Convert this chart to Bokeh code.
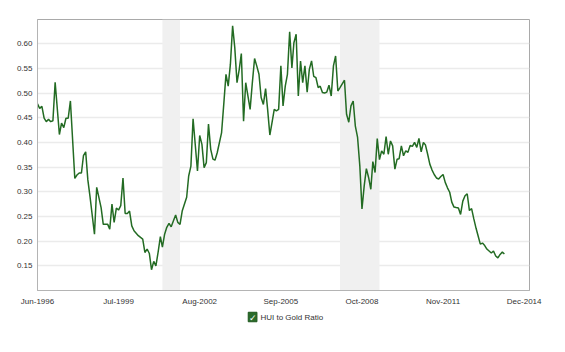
import pandas as pd
from bokeh.plotting import figure
from bokeh.layouts import column
from bokeh.models import (Range1d, FixedTicker, DatetimeTickFormatter, NumeralTickFormatter,
                          BoxAnnotation, ColumnDataSource)
from bokeh.core.properties import value
from bokeh.embed import file_html
from bokeh.resources import INLINE

# ---------------- data ----------------
dates = [
    "1996-06", "1996-07", "1996-08", "1996-09", "1996-10", "1996-11", "1996-12",
    "1997-01", "1997-02", "1997-04", "1997-05", "1997-06", "1997-07", "1997-08", "1997-09", "1997-11", "1997-12",
    "1998-01", "1998-02", "1998-03", "1998-04", "1998-05", "1998-06", "1998-08", "1998-09", "1998-11", "1998-12",
    "1999-02", "1999-03", "1999-04", "1999-05", "1999-06", "1999-07", "1999-08", "1999-09", "1999-10", "1999-11", "1999-12",
    "2000-01", "2000-02", "2000-04", "2000-06", "2000-07", "2000-08", "2000-09", "2000-10", "2000-11", "2000-12",
    "2001-01", "2001-02", "2001-03", "2001-04", "2001-05", "2001-06", "2001-07", "2001-09", "2001-10", "2001-11", "2001-12",
    "2002-02", "2002-03", "2002-04", "2002-05", "2002-07", "2002-08", "2002-09", "2002-10", "2002-11", "2002-12",
    "2003-01", "2003-02", "2003-03", "2003-04", "2003-06", "2003-07", "2003-08", "2003-09", "2003-10", "2003-11", "2003-12",
    "2004-01", "2004-02", "2004-03", "2004-04", "2004-05", "2004-06", "2004-07", "2004-08", "2004-09", "2004-10", "2004-11", "2004-12",
    "2005-01", "2005-02", "2005-03", "2005-04", "2005-05", "2005-06", "2005-07", "2005-08", "2005-09", "2005-10", "2005-11", "2005-12",
    "2006-01", "2006-02", "2006-03", "2006-04", "2006-05", "2006-06", "2006-07", "2006-08", "2006-09", "2006-10", "2006-11", "2006-12",
    "2007-01", "2007-02", "2007-03", "2007-04", "2007-05", "2007-06", "2007-07", "2007-08", "2007-09", "2007-10", "2007-11", "2007-12",
    "2008-02", "2008-03", "2008-04", "2008-05", "2008-06", "2008-07", "2008-08", "2008-09", "2008-10", "2008-11", "2008-12",
    "2009-01", "2009-02", "2009-03", "2009-04", "2009-05", "2009-06", "2009-07", "2009-08", "2009-09", "2009-10", "2009-11", "2009-12",
    "2010-01", "2010-02", "2010-03", "2010-04", "2010-05", "2010-06", "2010-07", "2010-08", "2010-09", "2010-10", "2010-11", "2010-12",
    "2011-01", "2011-02", "2011-03", "2011-04", "2011-05", "2011-06", "2011-07", "2011-08", "2011-09", "2011-10", "2011-11", "2011-12",
    "2012-01", "2012-02", "2012-03", "2012-04", "2012-05", "2012-06", "2012-07", "2012-08", "2012-09", "2012-10", "2012-11", "2012-12",
    "2013-01", "2013-02", "2013-03", "2013-04", "2013-05", "2013-06", "2013-07", "2013-08", "2013-09", "2013-10", "2013-11", "2013-12",
    "2014-01", "2014-02", "2014-03",
]

hui_gold_ratio = [
    0.478, 0.469, 0.473, 0.449, 0.442, 0.447, 0.442,
    0.444, 0.522, 0.416, 0.439, 0.430, 0.449, 0.449, 0.484, 0.327, 0.334,
    0.338, 0.338, 0.373, 0.381, 0.324, 0.289, 0.214, 0.309, 0.268, 0.234,
    0.234, 0.224, 0.275, 0.238, 0.267, 0.263, 0.272, 0.328, 0.256, 0.256, 0.261,
    0.231, 0.221, 0.211, 0.204, 0.177, 0.184, 0.175, 0.142, 0.159, 0.150,
    0.178, 0.209, 0.188, 0.214, 0.228, 0.236, 0.229, 0.253, 0.238, 0.234, 0.261,
    0.289, 0.332, 0.352, 0.448, 0.342, 0.414, 0.396, 0.349, 0.359, 0.437,
    0.386, 0.366, 0.364, 0.379, 0.420, 0.477, 0.538, 0.514, 0.558, 0.636, 0.592,
    0.521, 0.548, 0.580, 0.443, 0.521, 0.494, 0.467, 0.521, 0.570, 0.555, 0.538, 0.491,
    0.477, 0.509, 0.467, 0.415, 0.440, 0.467, 0.464, 0.467, 0.555, 0.474, 0.514, 0.538,
    0.624, 0.551, 0.602, 0.619, 0.494, 0.565, 0.521, 0.555, 0.502, 0.548, 0.565, 0.534,
    0.531, 0.511, 0.514, 0.501, 0.500, 0.502, 0.516, 0.494, 0.555, 0.575, 0.504, 0.511,
    0.526, 0.457, 0.441, 0.474, 0.484, 0.433, 0.410, 0.353, 0.265, 0.312, 0.347,
    0.329, 0.305, 0.361, 0.339, 0.408, 0.365, 0.383, 0.376, 0.412, 0.376, 0.403, 0.393,
    0.346, 0.366, 0.367, 0.393, 0.373, 0.383, 0.380, 0.394, 0.392, 0.400, 0.390, 0.408,
    0.381, 0.400, 0.395, 0.376, 0.356, 0.344, 0.335, 0.328, 0.326, 0.331, 0.335, 0.319,
    0.308, 0.299, 0.279, 0.269, 0.268, 0.267, 0.254, 0.281, 0.292, 0.296, 0.262, 0.266,
    0.245, 0.226, 0.211, 0.194, 0.196, 0.191, 0.184, 0.180, 0.176, 0.180, 0.170, 0.166,
    0.173, 0.178, 0.174,
]

recession_starts = ["2001-03-01", "2007-12-01"]
recession_ends = ["2001-11-01", "2009-06-01"]

x_tick_dates = ["1996-06-01", "1999-07-01", "2002-08-01", "2005-09-01",
                "2008-10-01", "2011-11-01", "2014-12-01"]
y_ticks = [0.15, 0.20, 0.25, 0.30, 0.35, 0.40, 0.45, 0.50, 0.55, 0.60]

series_name = "HUI to Gold Ratio"
x_start, x_end = "1996-06-01", "2015-02-13"
y_start, y_end = 0.10, 0.649

assert len(dates) == len(hui_gold_ratio)


def ms(d):
    return pd.Timestamp(d).value / 1e6


# ---------------- main chart ----------------
FONT = "Liberation Sans"
LINE_COLOR = "#236b23"
BOX_COLOR = "#2a6b2a"
W, H_MAIN, H_LEG = 565, 308, 44

p = figure(width=W, height=H_MAIN, x_axis_type="datetime",
           output_backend="svg", toolbar_location=None,
           x_range=Range1d(ms(x_start), ms(x_end)),
           y_range=Range1d(y_start, y_end),
           min_border_left=37, min_border_right=36,
           min_border_top=19, min_border_bottom=18)

p.background_fill_color = "white"
p.border_fill_color = "white"
p.outline_line_color = "#a9a9a9"
p.outline_line_width = 1

# recession bands
for s, e in zip(recession_starts, recession_ends):
    p.add_layout(BoxAnnotation(left=ms(s), right=ms(e), fill_color="#f0f0f0",
                               fill_alpha=1.0, line_color=None, level="underlay"))

src = ColumnDataSource(dict(x=[pd.Timestamp(d + "-01") for d in dates], y=hui_gold_ratio))
p.line("x", "y", source=src, line_color=LINE_COLOR, line_width=1.5)

p.xaxis.ticker = FixedTicker(ticks=[ms(d) for d in x_tick_dates])
p.xaxis.formatter = DatetimeTickFormatter(
    milliseconds="%b-%Y", seconds="%b-%Y", minsec="%b-%Y", minutes="%b-%Y",
    hourmin="%b-%Y", hours="%b-%Y", days="%b-%Y", months="%b-%Y", years="%b-%Y")
p.yaxis.ticker = FixedTicker(ticks=y_ticks)
p.yaxis.formatter = NumeralTickFormatter(format="0.00")

for ax in (p.xaxis, p.yaxis):
    ax.axis_line_color = "#b4b4b4"
    ax.axis_line_width = 1
    ax.major_tick_line_color = None
    ax.minor_tick_line_color = None
    ax.major_tick_out = 0
    ax.major_tick_in = 0
    ax.major_label_text_font = FONT
    ax.major_label_text_font_size = "8px"
    ax.major_label_text_color = "#333333"
p.yaxis.major_label_standoff = 5
p.xaxis.major_label_standoff = 6

p.xgrid.grid_line_color = None
p.ygrid.grid_line_color = "#ebebeb"
p.ygrid.grid_line_width = 1.5

# ---------------- legend strip (checkbox + series name) ----------------
leg = figure(width=W, height=H_LEG, output_backend="svg", toolbar_location=None,
             x_range=Range1d(0, W), y_range=Range1d(H_LEG, 0),
             x_axis_location=None, y_axis_location=None,
             min_border=0, min_border_left=0, min_border_right=0,
             min_border_top=0, min_border_bottom=0)
leg.outline_line_color = None
leg.background_fill_color = "white"
leg.border_fill_color = "white"
leg.xgrid.visible = False
leg.ygrid.visible = False

leg.rect(x=[247], y=[8.5], width=10, height=9.5, fill_color=BOX_COLOR,
         line_color="#1d561d", line_width=1)
leg.text(x=[247.2], y=[9.0], text=["\u2713"], text_color="white",
         text_font=value("DejaVu Sans"), text_font_size="9px", text_font_style="bold",
         text_align="center", text_baseline="middle")
leg.text(x=[256], y=[8.5], text=[series_name], text_color="#333333",
         text_font=value(FONT), text_font_size="8px",
         text_align="left", text_baseline="middle")

layout = column(p, leg, spacing=0)
open("out.html", "w").write(file_html(layout, INLINE))
